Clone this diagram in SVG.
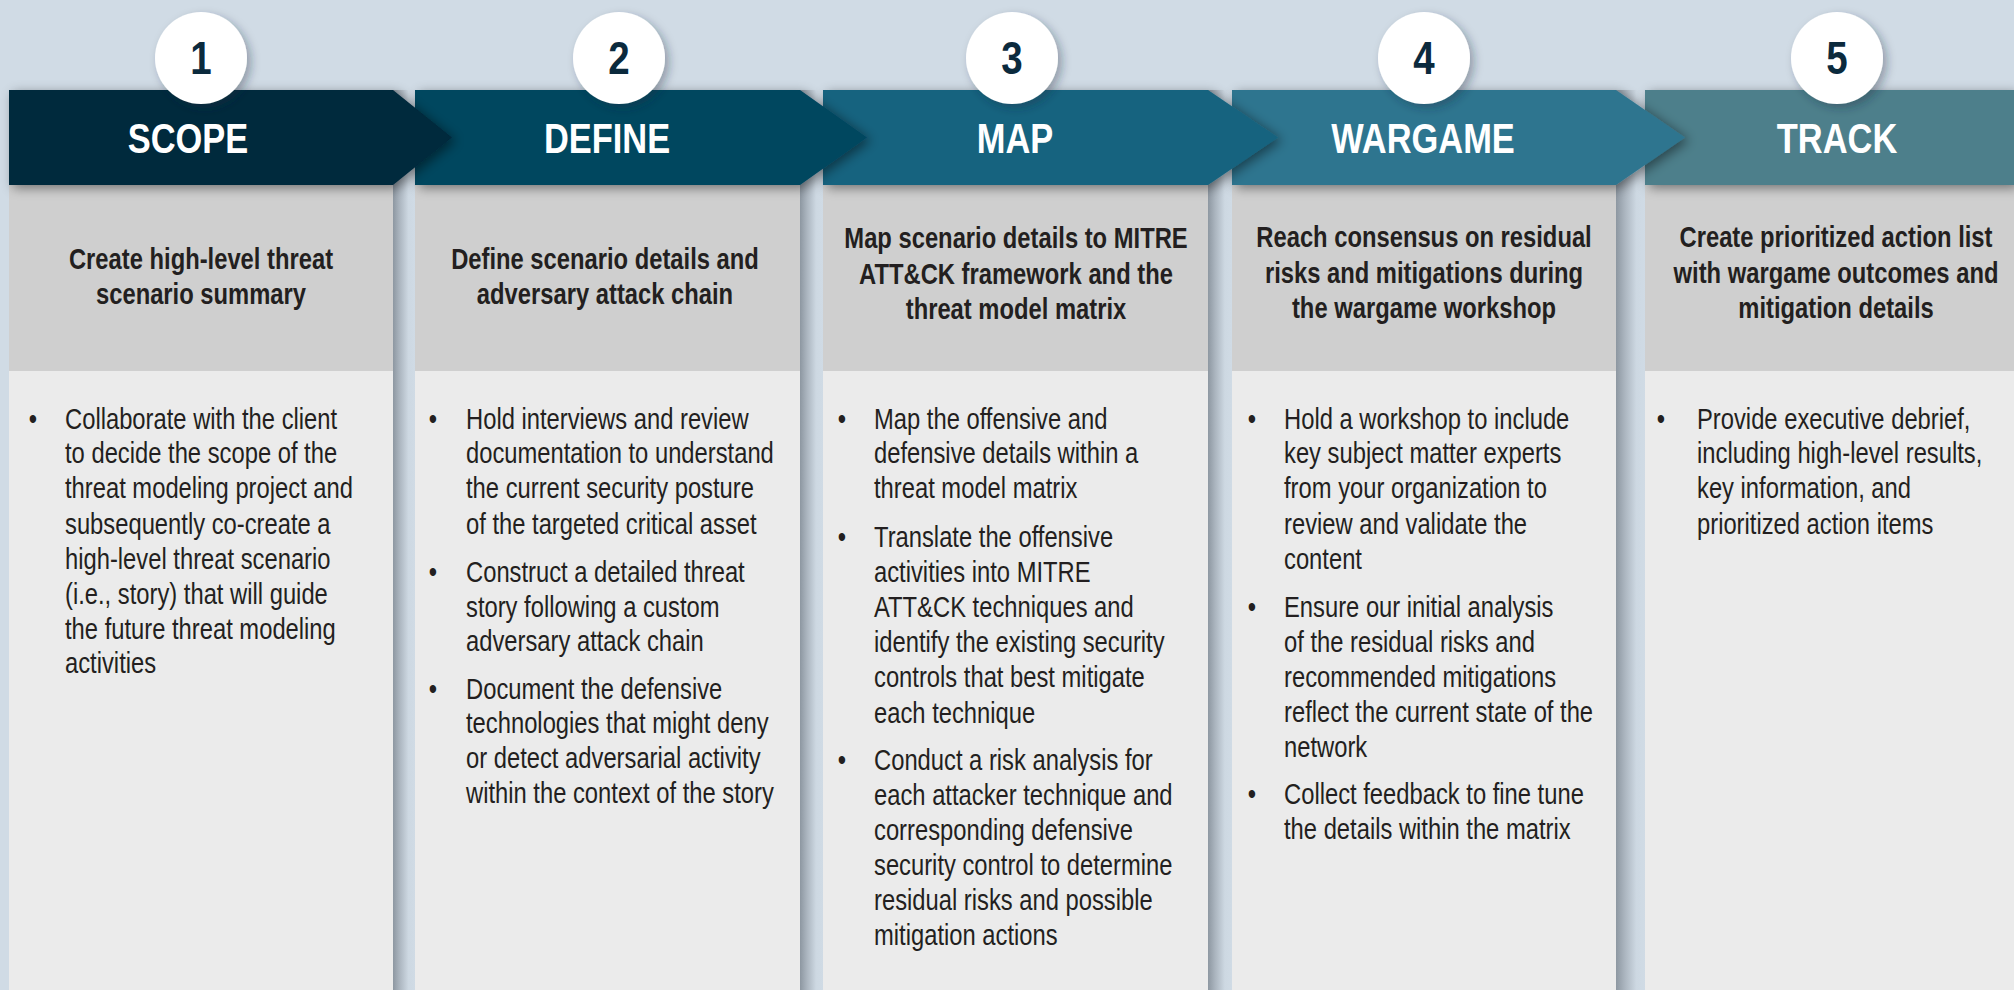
<svg xmlns="http://www.w3.org/2000/svg" width="2014" height="990" viewBox="0 0 2014 990">
<defs>
<style>
.ttl{font-family:"Liberation Sans",Arial,sans-serif;font-weight:bold;font-size:42px;fill:#ffffff;text-anchor:middle}
.num{font-family:"Liberation Sans",Arial,sans-serif;font-weight:bold;font-size:47px;fill:#0b2a3d;text-anchor:middle}
.sub{font-family:"Liberation Sans",Arial,sans-serif;font-weight:bold;font-size:29px;fill:#231f20;text-anchor:middle}
.body{font-family:"Liberation Sans",Arial,sans-serif;font-size:29px;fill:#231f20}
.blt{font-family:"Liberation Sans",Arial,sans-serif;font-size:29px;fill:#231f20;text-anchor:middle}
.subbox{fill:#cfcfcf}
.bodybox{fill:#ebebeb}
.circ{fill:#ffffff;filter:url(#cshadow)}
.gap{fill:url(#gapg)}
</style>
<linearGradient id="gapg" x1="0" y1="0" x2="1" y2="0">
<stop offset="0" stop-color="#8d97a1"/>
<stop offset="0.3" stop-color="#abb5bf"/>
<stop offset="0.7" stop-color="#cdd8e2"/>
<stop offset="1" stop-color="#d0dbe5"/>
</linearGradient>
<filter id="hshadow" x="-10%" y="-30%" width="130%" height="170%">
<feDropShadow dx="4" dy="3" stdDeviation="6" flood-color="#000000" flood-opacity="0.45"/>
</filter>
<filter id="cshadow" x="-40%" y="-40%" width="180%" height="180%">
<feDropShadow dx="4" dy="4" stdDeviation="5" flood-color="#1a2a3a" flood-opacity="0.35"/>
</filter>
</defs>
<rect x="0" y="0" width="2014" height="990" fill="#d0dbe5"/>
<g id="gaps">
<rect class="gap" x="393" y="90" width="22" height="900"/>
<rect class="gap" x="800" y="90" width="23" height="900"/>
<rect class="gap" x="1208" y="90" width="24" height="900"/>
<rect class="gap" x="1616" y="90" width="29" height="900"/>
</g>
<g id="connectors"></g>

<g id="step5">
<rect class="subbox" x="1645" y="185" width="369" height="186"/>
<rect class="bodybox" x="1645" y="371" width="369" height="619"/>
<polygon points="1645,90 2014,90 2014,185 1645,185" fill="#4e7f8b" filter="url(#hshadow)"/>
<text class="ttl" transform="matrix(0.82 0 0 1 1837 153)">TRACK</text>
<circle class="circ" cx="1837" cy="58" r="46"/>
<text class="num" transform="matrix(0.82 0 0 1 1837 74)">5</text>
<text class="sub" transform="matrix(0.82 0 0 1 1836 247)">Create prioritized action list</text>
<text class="sub" transform="matrix(0.82 0 0 1 1836 283)">with wargame outcomes and</text>
<text class="sub" transform="matrix(0.82 0 0 1 1836 318)">mitigation details</text>
<text class="blt" transform="matrix(0.82 0 0 1 1661 429)">•</text>
<text class="body" transform="matrix(0.82 0 0 1 1697 429)">Provide executive debrief,</text>
<text class="body" transform="matrix(0.82 0 0 1 1697 463)">including high-level results,</text>
<text class="body" transform="matrix(0.82 0 0 1 1697 498)">key information, and</text>
<text class="body" transform="matrix(0.82 0 0 1 1697 534)">prioritized action items</text>
</g>

<g id="step4">
<rect class="subbox" x="1232" y="185" width="384" height="186"/>
<rect class="bodybox" x="1232" y="371" width="384" height="619"/>
<polygon points="1232,90 1616,90 1685,137.5 1616,185 1232,185" fill="#2f758f" filter="url(#hshadow)"/>
<text class="ttl" transform="matrix(0.82 0 0 1 1423 153)">WARGAME</text>
<circle class="circ" cx="1424" cy="58" r="46"/>
<text class="num" transform="matrix(0.82 0 0 1 1424 74)">4</text>
<text class="sub" transform="matrix(0.82 0 0 1 1424 247)">Reach consensus on residual</text>
<text class="sub" transform="matrix(0.82 0 0 1 1424 283)">risks and mitigations during</text>
<text class="sub" transform="matrix(0.82 0 0 1 1424 318)">the wargame workshop</text>
<text class="blt" transform="matrix(0.82 0 0 1 1252 429)">•</text>
<text class="body" transform="matrix(0.82 0 0 1 1284 429)">Hold a workshop to include</text>
<text class="body" transform="matrix(0.82 0 0 1 1284 463)">key subject matter experts</text>
<text class="body" transform="matrix(0.82 0 0 1 1284 498)">from your organization to</text>
<text class="body" transform="matrix(0.82 0 0 1 1284 534)">review and validate the</text>
<text class="body" transform="matrix(0.82 0 0 1 1284 569)">content</text>
<text class="blt" transform="matrix(0.82 0 0 1 1252 617)">•</text>
<text class="body" transform="matrix(0.82 0 0 1 1284 617)">Ensure our initial analysis</text>
<text class="body" transform="matrix(0.82 0 0 1 1284 652)">of the residual risks and</text>
<text class="body" transform="matrix(0.82 0 0 1 1284 687)">recommended mitigations</text>
<text class="body" transform="matrix(0.82 0 0 1 1284 722)">reflect the current state of the</text>
<text class="body" transform="matrix(0.82 0 0 1 1284 757)">network</text>
<text class="blt" transform="matrix(0.82 0 0 1 1252 804)">•</text>
<text class="body" transform="matrix(0.82 0 0 1 1284 804)">Collect feedback to fine tune</text>
<text class="body" transform="matrix(0.82 0 0 1 1284 839)">the details within the matrix</text>
</g>

<g id="step3">
<rect class="subbox" x="823" y="185" width="385" height="186"/>
<rect class="bodybox" x="823" y="371" width="385" height="619"/>
<polygon points="823,90 1208,90 1278,137.5 1208,185 823,185" fill="#17637f" filter="url(#hshadow)"/>
<text class="ttl" transform="matrix(0.82 0 0 1 1015 153)">MAP</text>
<circle class="circ" cx="1012" cy="58" r="46"/>
<text class="num" transform="matrix(0.82 0 0 1 1012 74)">3</text>
<text class="sub" transform="matrix(0.82 0 0 1 1016 248)">Map scenario details to MITRE</text>
<text class="sub" transform="matrix(0.82 0 0 1 1016 284)">ATT&amp;CK framework and the</text>
<text class="sub" transform="matrix(0.82 0 0 1 1016 319)">threat model matrix</text>
<text class="blt" transform="matrix(0.82 0 0 1 842 429)">•</text>
<text class="body" transform="matrix(0.82 0 0 1 874 429)">Map the offensive and</text>
<text class="body" transform="matrix(0.82 0 0 1 874 463)">defensive details within a</text>
<text class="body" transform="matrix(0.82 0 0 1 874 498)">threat model matrix</text>
<text class="blt" transform="matrix(0.82 0 0 1 842 547)">•</text>
<text class="body" transform="matrix(0.82 0 0 1 874 547)">Translate the offensive</text>
<text class="body" transform="matrix(0.82 0 0 1 874 582)">activities into MITRE</text>
<text class="body" transform="matrix(0.82 0 0 1 874 617)">ATT&amp;CK techniques and</text>
<text class="body" transform="matrix(0.82 0 0 1 874 652)">identify the existing security</text>
<text class="body" transform="matrix(0.82 0 0 1 874 687)">controls that best mitigate</text>
<text class="body" transform="matrix(0.82 0 0 1 874 723)">each technique</text>
<text class="blt" transform="matrix(0.82 0 0 1 842 770)">•</text>
<text class="body" transform="matrix(0.82 0 0 1 874 770)">Conduct a risk analysis for</text>
<text class="body" transform="matrix(0.82 0 0 1 874 805)">each attacker technique and</text>
<text class="body" transform="matrix(0.82 0 0 1 874 840)">corresponding defensive</text>
<text class="body" transform="matrix(0.82 0 0 1 874 875)">security control to determine</text>
<text class="body" transform="matrix(0.82 0 0 1 874 910)">residual risks and possible</text>
<text class="body" transform="matrix(0.82 0 0 1 874 945)">mitigation actions</text>
</g>

<g id="step2">
<rect class="subbox" x="415" y="185" width="385" height="186"/>
<rect class="bodybox" x="415" y="371" width="385" height="619"/>
<polygon points="415,90 800,90 867,137.5 800,185 415,185" fill="#03465f" filter="url(#hshadow)"/>
<text class="ttl" transform="matrix(0.82 0 0 1 607 153)">DEFINE</text>
<circle class="circ" cx="619" cy="58" r="46"/>
<text class="num" transform="matrix(0.82 0 0 1 619 74)">2</text>
<text class="sub" transform="matrix(0.82 0 0 1 605 269)">Define scenario details and</text>
<text class="sub" transform="matrix(0.82 0 0 1 605 304)">adversary attack chain</text>
<text class="blt" transform="matrix(0.82 0 0 1 433 429)">•</text>
<text class="body" transform="matrix(0.82 0 0 1 466 429)">Hold interviews and review</text>
<text class="body" transform="matrix(0.82 0 0 1 466 463)">documentation to understand</text>
<text class="body" transform="matrix(0.82 0 0 1 466 498)">the current security posture</text>
<text class="body" transform="matrix(0.82 0 0 1 466 534)">of the targeted critical asset</text>
<text class="blt" transform="matrix(0.82 0 0 1 433 582)">•</text>
<text class="body" transform="matrix(0.82 0 0 1 466 582)">Construct a detailed threat</text>
<text class="body" transform="matrix(0.82 0 0 1 466 617)">story following a custom</text>
<text class="body" transform="matrix(0.82 0 0 1 466 651)">adversary attack chain</text>
<text class="blt" transform="matrix(0.82 0 0 1 433 699)">•</text>
<text class="body" transform="matrix(0.82 0 0 1 466 699)">Document the defensive</text>
<text class="body" transform="matrix(0.82 0 0 1 466 733)">technologies that might deny</text>
<text class="body" transform="matrix(0.82 0 0 1 466 768)">or detect adversarial activity</text>
<text class="body" transform="matrix(0.82 0 0 1 466 803)">within the context of the story</text>
</g>

<g id="step1">
<rect class="subbox" x="9" y="185" width="384" height="186"/>
<rect class="bodybox" x="9" y="371" width="384" height="619"/>
<polygon points="9,90 393,90 452,137.5 393,185 9,185" fill="#01293c" filter="url(#hshadow)"/>
<text class="ttl" transform="matrix(0.82 0 0 1 188 153)">SCOPE</text>
<circle class="circ" cx="201" cy="58" r="46"/>
<text class="num" transform="matrix(0.82 0 0 1 201 74)">1</text>
<text class="sub" transform="matrix(0.82 0 0 1 201 269)">Create high-level threat</text>
<text class="sub" transform="matrix(0.82 0 0 1 201 304)">scenario summary</text>
<text class="blt" transform="matrix(0.82 0 0 1 33 429)">•</text>
<text class="body" transform="matrix(0.82 0 0 1 65 429)">Collaborate with the client</text>
<text class="body" transform="matrix(0.82 0 0 1 65 463)">to decide the scope of the</text>
<text class="body" transform="matrix(0.82 0 0 1 65 498)">threat modeling project and</text>
<text class="body" transform="matrix(0.82 0 0 1 65 534)">subsequently co-create a</text>
<text class="body" transform="matrix(0.82 0 0 1 65 569)">high-level threat scenario</text>
<text class="body" transform="matrix(0.82 0 0 1 65 604)">(i.e., story) that will guide</text>
<text class="body" transform="matrix(0.82 0 0 1 65 639)">the future threat modeling</text>
<text class="body" transform="matrix(0.82 0 0 1 65 673)">activities</text>
</g>
</svg>
